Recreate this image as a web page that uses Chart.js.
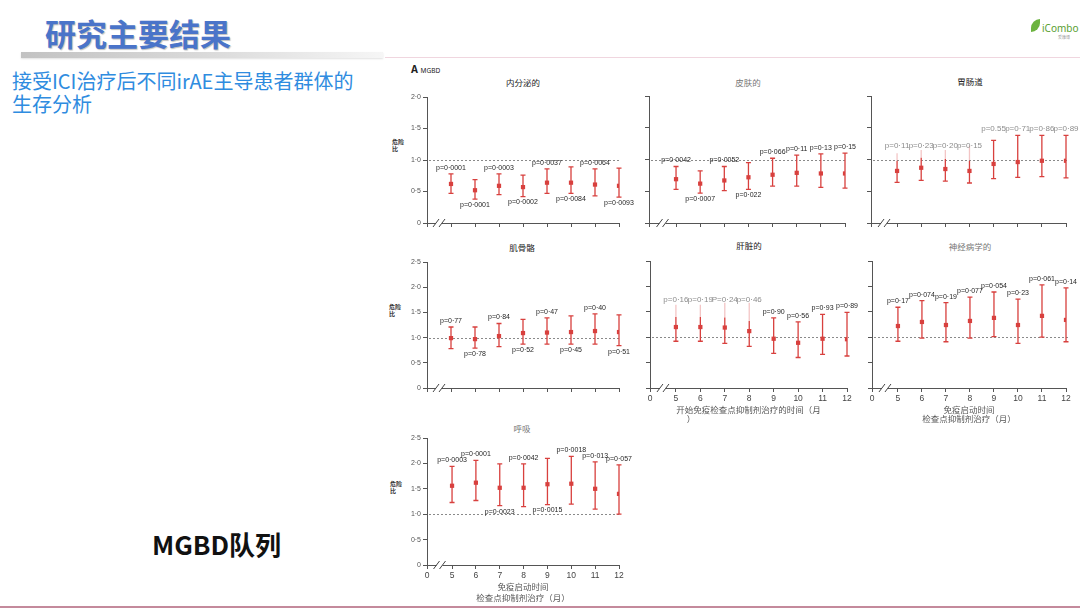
<!DOCTYPE html>
<html>
<head>
<meta charset="utf-8">
<script src="https://cdn.jsdelivr.net/npm/chart.js@4"></script>
<style>
  body { margin: 0; width: 1080px; height: 608px; background: #fff; overflow: hidden; position: relative;
         font-family: "Noto Sans CJK SC", "Noto Sans", sans-serif; }
  .abs { position: absolute; white-space: nowrap; }
  canvas { position: absolute; }
  .ptitle { position: absolute; font-size: 8.5px; transform: translate(-50%, -50%); white-space: nowrap; }
  .ylab { position: absolute; font-size: 6px; font-weight: bold; line-height: 7px; color: #333; }
</style>
</head>
<body>
<div class="abs" style="left:45px;top:10px;font-size:31px;font-weight:bold;color:#4a74c9;text-shadow:1px 1px 1px rgba(0,0,0,0.25);">研究主要结果</div>
<div class="abs" style="left:21px;top:52px;width:362px;height:6px;background:linear-gradient(to right,#c2c2c2,#dcdcdc 55%,#f6f6f6);box-shadow:0 1px 2px rgba(0,0,0,0.12);"></div>
<div class="abs" style="left:12px;top:69px;font-size:20px;line-height:23px;color:#2f8ce0;">接受ICI治疗后不同irAE主导患者群体的<br>生存分析</div>
<div class="abs" style="left:152px;top:525px;font-size:26px;font-weight:bold;color:#111;">MGBD队列</div>
<div class="abs" style="left:1031px;top:19px;width:9px;height:13px;background:#6cb33f;border-radius:9px 0 9px 0;"></div>
<div class="abs" style="left:1042px;top:21px;font-size:10px;color:#5aa032;font-family:'Noto Sans',sans-serif;">iCombo</div>
<div class="abs" style="left:1058px;top:34px;font-size:4px;color:#999;">爱康博</div>

<div class="abs" style="left:385px;top:57px;width:695px;height:1px;background:#f0d6df;"></div>
<div class="abs" style="left:0;top:606px;width:1080px;height:2px;background:#c48a9c;"></div>
<div class="abs" style="left:411px;top:62px;font-size:10px;font-weight:bold;color:#222;font-family:'Noto Sans',sans-serif;">A <span style="font-size:6.5px;font-weight:normal;">MGBD</span></div>

<div class="ptitle" style="left:523px;top:82px;color:#222;">内分泌的</div>
<div class="ptitle" style="left:748px;top:82px;color:#777;">皮肤的</div>
<div class="ptitle" style="left:970px;top:81px;color:#222;">胃肠道</div>
<div class="ptitle" style="left:522px;top:247px;color:#222;">肌骨骼</div>
<div class="ptitle" style="left:749px;top:245px;color:#222;">肝脏的</div>
<div class="ptitle" style="left:970px;top:246px;color:#777;">神经病学的</div>
<div class="ptitle" style="left:522px;top:428px;color:#777;">呼吸</div>

<div class="ylab" style="left:392px;top:138px;">危险<br>比</div>
<div class="ylab" style="left:389px;top:303px;">危险<br>比</div>
<div class="ylab" style="left:390px;top:480px;">危险<br>比</div>

<canvas id="c1"></canvas><canvas id="c2"></canvas><canvas id="c3"></canvas>
<canvas id="c4"></canvas><canvas id="c5"></canvas><canvas id="c6"></canvas>
<canvas id="c7"></canvas>

<script>
const months = [5, 6, 7, 8, 9, 10, 11, 12];

// 内分泌的
const endoHR = [0.62, 0.52, 0.59, 0.57, 0.64, 0.64, 0.61, 0.59];
const endoLo = [0.47, 0.38, 0.45, 0.42, 0.47, 0.47, 0.43, 0.41];
const endoHi = [0.78, 0.69, 0.78, 0.76, 0.86, 0.89, 0.86, 0.87];
const endoP = ['p=0·0001', 'p=0·0001', 'p=0·0003', 'p=0·0002', 'p=0·0037', 'p=0·0084', 'p=0·0064', 'p=0·0093'];
const endoPos = ['up', 'down', 'up', 'down', 'up', 'down', 'up', 'down'];

// 皮肤的
const skinHR = [0.69, 0.62, 0.67, 0.72, 0.76, 0.79, 0.78, 0.78];
const skinLo = [0.53, 0.47, 0.51, 0.53, 0.58, 0.58, 0.56, 0.55];
const skinHi = [0.89, 0.82, 0.89, 0.95, 1.02, 1.07, 1.09, 1.10];
const skinP = ['p=0·0042', 'p=0·0007', 'p=0·0052', 'p=0·022', 'p=0·066', 'p=0·11', 'p=0·13', 'p=0·15'];
const skinPos = ['up', 'down', 'up', 'down', 'up', 'up', 'up', 'up'];

// 胃肠道
const giHR = [0.82, 0.87, 0.85, 0.82, 0.93, 0.96, 0.98, 0.98];
const giLo = [0.64, 0.67, 0.66, 0.63, 0.70, 0.72, 0.73, 0.71];
const giHi = [1.10, 1.15, 1.15, 1.22, 1.30, 1.38, 1.38, 1.38];
const giP = ['p=0·11', 'p=0·23', 'p=0·20', 'p=0·15', 'p=0.55', 'p=0·71', 'p=0·86', 'p=0·89'];
const giLabelAt = [1.22, 1.22, 1.22, 1.22, 1.48, 1.48, 1.48, 1.48];

// 肌骨骼
const msHR = [0.99, 0.97, 1.03, 1.09, 1.10, 1.11, 1.13, 1.11];
const msLo = [0.78, 0.79, 0.82, 0.87, 0.87, 0.87, 0.87, 0.84];
const msHi = [1.21, 1.21, 1.28, 1.36, 1.39, 1.43, 1.47, 1.45];
const msP = ['p=0·77', 'p=0·78', 'p=0·84', 'p=0·52', 'p=0·47', 'p=0·45', 'p=0·40', 'p=0·51'];
const msPos = ['up', 'down', 'up', 'down', 'up', 'down', 'up', 'down'];

// 肝脏的
const liverHR = [1.20, 1.20, 1.19, 1.12, 0.97, 0.89, 0.97, 0.96];
const liverLo = [0.92, 0.92, 0.88, 0.82, 0.68, 0.60, 0.66, 0.63];
const liverHi = [1.64, 1.64, 1.68, 1.68, 1.38, 1.30, 1.45, 1.49];
const liverP = ['p=0·16', 'p=0·19', 'P=0·24', 'p=0·46', 'p=0·90', 'p=0·56', 'p=0·93', 'p=0·89'];
const liverLabelAt = [1.74, 1.74, 1.74, 1.74, null, null, null, null];

// 神经病学的
const neuroHR = [1.22, 1.30, 1.24, 1.32, 1.38, 1.24, 1.42, 1.34];
const neuroLo = [0.92, 0.98, 0.91, 0.98, 1.01, 0.88, 1.00, 0.91];
const neuroHi = [1.59, 1.72, 1.68, 1.79, 1.89, 1.75, 2.03, 1.97];
const neuroP = ['p=0·17', 'p=0·074', 'p=0·19', 'p=0·077', 'p=0·054', 'p=0·23', 'p=0·061', 'p=0·14'];

// 呼吸
const respHR = [1.56, 1.62, 1.52, 1.52, 1.59, 1.60, 1.50, 1.40];
const respLo = [1.23, 1.27, 1.17, 1.15, 1.19, 1.20, 1.10, 1.00];
const respHi = [1.94, 2.06, 1.99, 1.99, 2.10, 2.14, 2.03, 1.97];
const respP = ['p=0·0003', 'p=0·0001', 'p=0·0023', 'p=0·0042', 'p=0·0015', 'p=0·0018', 'p=0·013', 'p=0·057'];
const respPos = ['up', 'up', 'down', 'up', 'down', 'up', 'up', 'up'];

const allUp = months.map(() => 'up');

// chart area placement on the slide
const panels = [
    { id: 'c1', L: 427, R: 619, T: 97, B: 223, xMin: 4, yMax: 2, hr: endoHR, lo: endoLo, hi: endoHi, p: endoP, pos: endoPos, xLabels: false, yLabels: true, hx: 8 },
    { id: 'c2', L: 649, R: 845, T: 96, B: 223, xMin: 3.88, yMax: 2, hr: skinHR, lo: skinLo, hi: skinHi, p: skinP, pos: skinPos, xLabels: false, yLabels: false, hx: 8 },
    { id: 'c3', L: 871, R: 1066, T: 96, B: 223, xMin: 3.92, yMax: 2, hr: giHR, lo: giLo, hi: giHi, p: giP, pos: allUp, labelAt: giLabelAt, fade: 4, xLabels: false, yLabels: false, hx: 8 },
    { id: 'c4', L: 427, R: 619, T: 262, B: 388, xMin: 4, yMax: 2.5, hr: msHR, lo: msLo, hi: msHi, p: msP, pos: msPos, xLabels: false, yLabels: true, hx: 8 },
    { id: 'c5', L: 650, R: 847, T: 261, B: 388, xMin: 3.94, yMax: 2.5, hr: liverHR, lo: liverLo, hi: liverHi, p: liverP, pos: allUp, labelAt: liverLabelAt, fade: 4, xLabels: true, yLabels: false, hx: 35,
      title: ['开始免疫检查点抑制剂治疗的时间（月', '）' + '　'.repeat(14)], titleLH: 1.05 },
    { id: 'c6', L: 872, R: 1066, T: 261, B: 388, xMin: 3.92, yMax: 2.5, hr: neuroHR, lo: neuroLo, hi: neuroHi, p: neuroP, pos: allUp, xLabels: true, yLabels: false, hx: 35,
      title: ['免疫启动时间', '检查点抑制剂治疗（月）'], titleLH: 1.05 },
    { id: 'c7', L: 427, R: 619, T: 438, B: 565, xMin: 3.95, yMax: 2.5, hr: respHR, lo: respLo, hi: respHi, p: respP, pos: respPos, xLabels: true, yLabels: true, hx: 38,
      title: ['免疫启动时间', '检查点抑制剂治疗（月）'], titleLH: 1.3 }
];

const RED = '#d8403e';
const WY = 30, PAD_T = 10, PAD_R = 22;

function fmtY(v) {
    return v === 0 ? '0' : v.toFixed(1).replace('.', '·');
}

const errorBars = {
    id: 'errorBars',
    beforeDatasetsDraw(chart) {
        const cfg = chart.options.plugins.errorBars;
        const { ctx, chartArea } = chart;
        const x = chart.scales.x, y = chart.scales.y;
        ctx.save();
        // reference line at HR = 1
        ctx.strokeStyle = '#8a8a8a';
        ctx.lineWidth = 1;
        ctx.setLineDash([2, 2]);
        const y1 = Math.round(y.getPixelForValue(1)) + 0.5;
        ctx.beginPath();
        ctx.moveTo(chartArea.left + 2, y1);
        ctx.lineTo(chartArea.right + 2, y1);
        ctx.stroke();
        ctx.setLineDash([]);
        // bars
        ctx.lineWidth = 1.3;
        months.forEach((m, i) => {
            const px = x.getPixelForValue(m);
            const pLo = y.getPixelForValue(cfg.lo[i]);
            const pHi = y.getPixelForValue(cfg.hi[i]);
            const pMid = y.getPixelForValue(cfg.hr[i]);
            const faded = cfg.fade && i < cfg.fade;
            ctx.strokeStyle = RED;
            ctx.beginPath();
            ctx.moveTo(px, pLo); ctx.lineTo(px, faded ? pMid - 10 : pHi);
            ctx.moveTo(px - 2.5, pLo); ctx.lineTo(px + 2.5, pLo);
            if (!faded) { ctx.moveTo(px - 2.5, pHi); ctx.lineTo(px + 2.5, pHi); }
            ctx.stroke();
            if (faded) {
                ctx.strokeStyle = 'rgba(216,64,62,0.3)';
                ctx.beginPath();
                ctx.moveTo(px, pMid - 10); ctx.lineTo(px, pHi);
                ctx.stroke();
            }
        });
        ctx.restore();
    },
    afterDraw(chart) {
        const cfg = chart.options.plugins.errorBars;
        const { ctx } = chart;
        const x = chart.scales.x, y = chart.scales.y;
        ctx.save();
        ctx.textAlign = 'center';
        ctx.textBaseline = 'middle';
        months.forEach((m, i) => {
            const px = x.getPixelForValue(m);
            const fixed = cfg.labelAt && cfg.labelAt[i] != null;
            let py;
            if (fixed) {
                py = y.getPixelForValue(cfg.labelAt[i]);
                ctx.fillStyle = '#8c8c8c';
                ctx.font = '8px "Liberation Sans", sans-serif';
            } else {
                py = cfg.pos[i] === 'up' ? y.getPixelForValue(cfg.hi[i]) - 6 : y.getPixelForValue(cfg.lo[i]) + 6;
                ctx.fillStyle = '#262626';
                ctx.font = '7px "Liberation Sans", sans-serif';
            }
            ctx.fillText(cfg.p[i], px, py);
        });
        // axis break marks
        const bx = x.getPixelForValue(cfg.xMin + (5 - cfg.xMin) * 0.5);
        const by = y.getPixelForValue(0);
        ctx.fillStyle = '#fff';
        ctx.fillRect(bx - 3, by - 1, 6, 2.5);
        ctx.strokeStyle = '#444';
        ctx.lineWidth = 1;
        ctx.beginPath();
        [-3, 3].forEach(d => {
            ctx.moveTo(bx + d - 3, by + 4);
            ctx.lineTo(bx + d + 3, by - 4);
        });
        ctx.stroke();
        ctx.restore();
    }
};

function createChart(pn) {
    const canvas = document.getElementById(pn.id);
    const w = WY + (pn.R - pn.L) + PAD_R;
    const h = PAD_T + (pn.B - pn.T) + pn.hx;
    canvas.width = w; canvas.height = h;
    canvas.style.left = (pn.L - WY) + 'px';
    canvas.style.top = (pn.T - PAD_T) + 'px';

    return new Chart(canvas.getContext('2d'), {
        type: 'scatter',
        data: {
            datasets: [{
                data: months.map((m, i) => ({ x: m, y: pn.hr[i] })),
                pointStyle: 'rect',
                pointRadius: 3,
                backgroundColor: RED,
                borderWidth: 0,
                showLine: false
            }]
        },
        options: {
            responsive: false,
            animation: false,
            layout: { padding: { top: PAD_T, right: PAD_R, left: 0, bottom: 0 } },
            plugins: {
                legend: { display: false },
                tooltip: { enabled: false },
                errorBars: { hr: pn.hr, lo: pn.lo, hi: pn.hi, p: pn.p, pos: pn.pos, labelAt: pn.labelAt, fade: pn.fade, xMin: pn.xMin }
            },
            scales: {
                x: {
                    type: 'linear',
                    min: pn.xMin,
                    max: 12,
                    afterBuildTicks: s => { s.ticks = [pn.xMin].concat(months).map(v => ({ value: v })); },
                    afterFit: s => { s.height = pn.hx; },
                    border: { color: '#555', width: 1 },
                    grid: { drawOnChartArea: false, drawTicks: true, tickLength: 4, color: '#555' },
                    ticks: {
                        autoSkip: false,
                        maxRotation: 0,
                        padding: 2,
                        color: '#444',
                        font: { family: 'Liberation Sans', size: 8.5 },
                        callback: v => pn.xLabels ? (v < 5 ? '0' : String(v)) : ''
                    },
                    title: {
                        display: !!pn.title,
                        text: pn.title || '',
                        color: '#555',
                        padding: { top: 0, bottom: 0 },
                        font: { family: 'Noto Sans CJK SC', size: 8.5, lineHeight: pn.titleLH || 1.2 }
                    }
                },
                y: {
                    min: 0,
                    max: pn.yMax,
                    afterBuildTicks: s => {
                        const t = [];
                        for (let v = 0; v <= pn.yMax + 1e-9; v += 0.5) t.push({ value: v });
                        s.ticks = t;
                    },
                    afterFit: s => { s.width = WY; },
                    border: { color: '#555', width: 1 },
                    grid: { drawOnChartArea: false, drawTicks: true, tickLength: 4, color: '#555' },
                    ticks: {
                        padding: 2,
                        color: '#555',
                        font: { family: 'Liberation Sans', size: 7 },
                        callback: v => pn.yLabels ? fmtY(v) : ''
                    }
                }
            }
        },
        plugins: [errorBars]
    });
}

panels.forEach(createChart);
</script>
</body>
</html>
